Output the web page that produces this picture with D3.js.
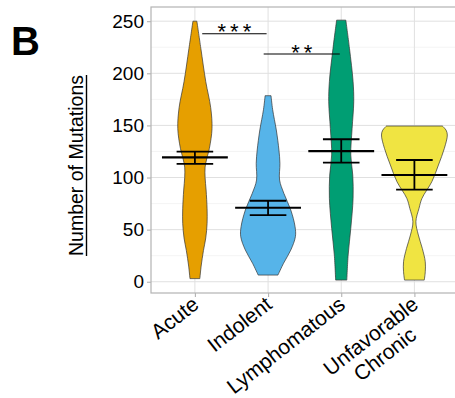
<!DOCTYPE html>
<html>
<head>
<meta charset="utf-8">
<script src="https://cdn.jsdelivr.net/npm/d3@7"></script>
<style>
body { margin: 0; background: #fff; }
text { font-family: "Liberation Sans", Arial, sans-serif; }
</style>
</head>
<body>
<svg id="svg" width="455" height="398"></svg>
<script>
var categories = ["Acute", "Indolent", "Lymphomatous", "Unfavorable\nChronic"];
var colors = ["#E69F00", "#56B4E9", "#009E73", "#F0E442"];

// violin outlines: [number of mutations, relative density]
var acuteDens = [[3, 0.15], [15, 0.19], [30, 0.26], [42, 0.33], [56, 0.37], [70, 0.37], [88, 0.34],
  [100, 0.31], [110, 0.31], [118, 0.36], [128, 0.44], [147, 0.52], [167, 0.48], [192, 0.33],
  [224, 0.18], [250, 0.06]];
var indolentDens = [[6.4, 0.30], [17.7, 0.47], [30.4, 0.69], [43.2, 0.83], [52.8, 0.82], [68.8, 0.69],
  [84.8, 0.48], [97.6, 0.35], [113.6, 0.36], [126.4, 0.33], [145.6, 0.25], [165, 0.14], [178.5, 0.09]];
var lymphoDens = [[1.6, 0.17], [25.6, 0.21], [51.2, 0.29], [80, 0.36], [102.4, 0.35], [121.6, 0.29],
  [147, 0.33], [172.7, 0.38], [192, 0.36], [224, 0.25], [251, 0.14]];
var chronicDens = [[1.6, 0.30], [9.6, 0.33], [19.2, 0.33], [32, 0.24], [44.8, 0.12], [57.6, 0.045],
  [70.4, 0.14], [80, 0.23], [96, 0.53], [112, 0.73], [128, 0.91], [140.8, 1.0], [145.5, 0.96], [149.4, 0.85]];
var densities = [acuteDens, indolentDens, lymphoDens, chronicDens];

var means = [119.4, 71, 125.4, 102.4];
var seLow = [113, 64, 114.2, 88.3];
var seHigh = [124.8, 77.7, 136.7, 116.8];

var yTicks = [0, 50, 100, 150, 200, 250];
var yMinor = [25, 75, 125, 175, 225];

// significance brackets (positions in category index units)
var sigStart = [0.1, 0.94];
var sigEnd = [0.98, 1.98];
var sigValue = [238, 218.5];
var sigLabel = ["***", "**"];

var svg = d3.select("#svg");

var panel = {left: 151, top: 7, right: 458.3, bottom: 293};

var y = d3.scaleLinear()
    .domain([-10.8, 263.6])
    .range([panel.bottom, panel.top]);

var x = d3.scalePoint()
    .domain(categories)
    .range([panel.left, panel.right])
    .padding(0.6);

var step = x.step();
var xi = d3.scaleLinear().domain([0, 3]).range([x(categories[0]), x(categories[3])]);
var w = d3.scaleLinear().domain([0, 1]).range([0, 0.45 * step]);

// grid
var grid = svg.append("g");
grid.selectAll(".minor").data(yMinor).enter().append("line")
    .attr("x1", panel.left).attr("x2", panel.right)
    .attr("y1", function(d) { return y(d); }).attr("y2", function(d) { return y(d); })
    .attr("stroke", "#EDEDED").attr("stroke-width", 0.6);
grid.selectAll(".major").data(yTicks).enter().append("line")
    .attr("x1", panel.left).attr("x2", panel.right)
    .attr("y1", function(d) { return y(d); }).attr("y2", function(d) { return y(d); })
    .attr("stroke", "#E0E0E0").attr("stroke-width", 1);
grid.selectAll(".vmajor").data(categories).enter().append("line")
    .attr("y1", panel.top).attr("y2", panel.bottom)
    .attr("x1", function(d) { return x(d); }).attr("x2", function(d) { return x(d); })
    .attr("stroke", "#E0E0E0").attr("stroke-width", 1);

// violins
categories.forEach(function(c, i) {
  var cx = x(c);
  var area = d3.area()
      .y(function(d) { return y(d[0]); })
      .x0(function(d) { return cx - w(d[1]); })
      .x1(function(d) { return cx + w(d[1]); })
      .curve(d3.curveCatmullRom);
  svg.append("path")
      .datum(densities[i])
      .attr("d", area)
      .attr("fill", colors[i])
      .attr("stroke", "#333")
      .attr("stroke-width", 0.7);
});

// mean and standard error bars
var bars = svg.append("g").attr("stroke", "#000");
categories.forEach(function(c, i) {
  var cx = x(c);
  bars.append("line").attr("x1", cx - 0.45 * step).attr("x2", cx + 0.45 * step)
      .attr("y1", y(means[i])).attr("y2", y(means[i])).attr("stroke-width", 2.2);
  bars.append("line").attr("x1", cx).attr("x2", cx)
      .attr("y1", y(seLow[i])).attr("y2", y(seHigh[i])).attr("stroke-width", 1.8);
  [seLow[i], seHigh[i]].forEach(function(v) {
    bars.append("line").attr("x1", cx - 0.25 * step).attr("x2", cx + 0.25 * step)
        .attr("y1", y(v)).attr("y2", y(v)).attr("stroke-width", 1.8);
  });
});

// significance brackets
sigValue.forEach(function(v, i) {
  var x1 = xi(sigStart[i]), x2 = xi(sigEnd[i]);
  svg.append("line").attr("x1", x1).attr("x2", x2)
      .attr("y1", y(v)).attr("y2", y(v))
      .attr("stroke", "#000").attr("stroke-width", 1.1);
  svg.append("text")
      .attr("x", (x1 + x2) / 2 + 2)
      .attr("y", y(v) + 5.5)
      .attr("text-anchor", "middle")
      .attr("font-size", 22)
      .attr("letter-spacing", 4)
      .text(sigLabel[i]);
});

// panel border
svg.append("rect")
    .attr("x", panel.left).attr("y", panel.top)
    .attr("width", panel.right - panel.left).attr("height", panel.bottom - panel.top)
    .attr("fill", "none").attr("stroke", "#B3B3B3").attr("stroke-width", 1.2);

// y axis
var yAxis = svg.append("g")
    .attr("transform", "translate(" + panel.left + ",0)")
    .call(d3.axisLeft(y).tickValues(yTicks).tickSize(4).tickPadding(3));
yAxis.select(".domain").remove();
yAxis.selectAll(".tick line").attr("stroke", "#B3B3B3").attr("stroke-width", 1.1);
yAxis.selectAll(".tick text").attr("font-size", 19).attr("fill", "#000")
    .attr("font-family", "'Liberation Sans', Arial, sans-serif");

// x axis
var xAxis = svg.append("g")
    .attr("transform", "translate(0," + panel.bottom + ")")
    .call(d3.axisBottom(x).tickSize(4).tickFormat(""));
xAxis.select(".domain").remove();
xAxis.selectAll(".tick line").attr("stroke", "#B3B3B3").attr("stroke-width", 1.1);

var angle = 38;
categories.forEach(function(c) {
  var lines = c.split("\n");
  var g = svg.append("g")
      .attr("transform", "translate(" + (x(c) - 4) + "," + (panel.bottom + 2) + ") rotate(" + (-angle) + ")");
  var texts = lines.map(function(l, k) {
    return g.append("text")
        .attr("font-size", 21)
        .attr("y", k * 23)
        .attr("dy", "0.72em")
        .text(l);
  });
  var widths = texts.map(function(t) { return t.node().getComputedTextLength(); });
  var W = d3.max(widths);
  texts.forEach(function(t) {
    t.attr("text-anchor", "middle").attr("x", -W / 2);
  });
});

// y title, underlined
var ttl = svg.append("text")
    .attr("transform", "translate(83,165.5) rotate(-90)")
    .attr("text-anchor", "middle")
    .attr("font-size", 19.5)
    .text("Number of Mutations");
var tl = ttl.node().getComputedTextLength();
svg.append("line")
    .attr("x1", 86.5).attr("x2", 86.5)
    .attr("y1", 165.5 - tl / 2).attr("y2", 165.5 + tl / 2)
    .attr("stroke", "#000").attr("stroke-width", 1.4);

// panel letter
svg.append("text")
    .attr("x", 11).attr("y", 55)
    .attr("font-size", 40)
    .attr("font-weight", "bold")
    .text("B");
</script>
</body>
</html>
